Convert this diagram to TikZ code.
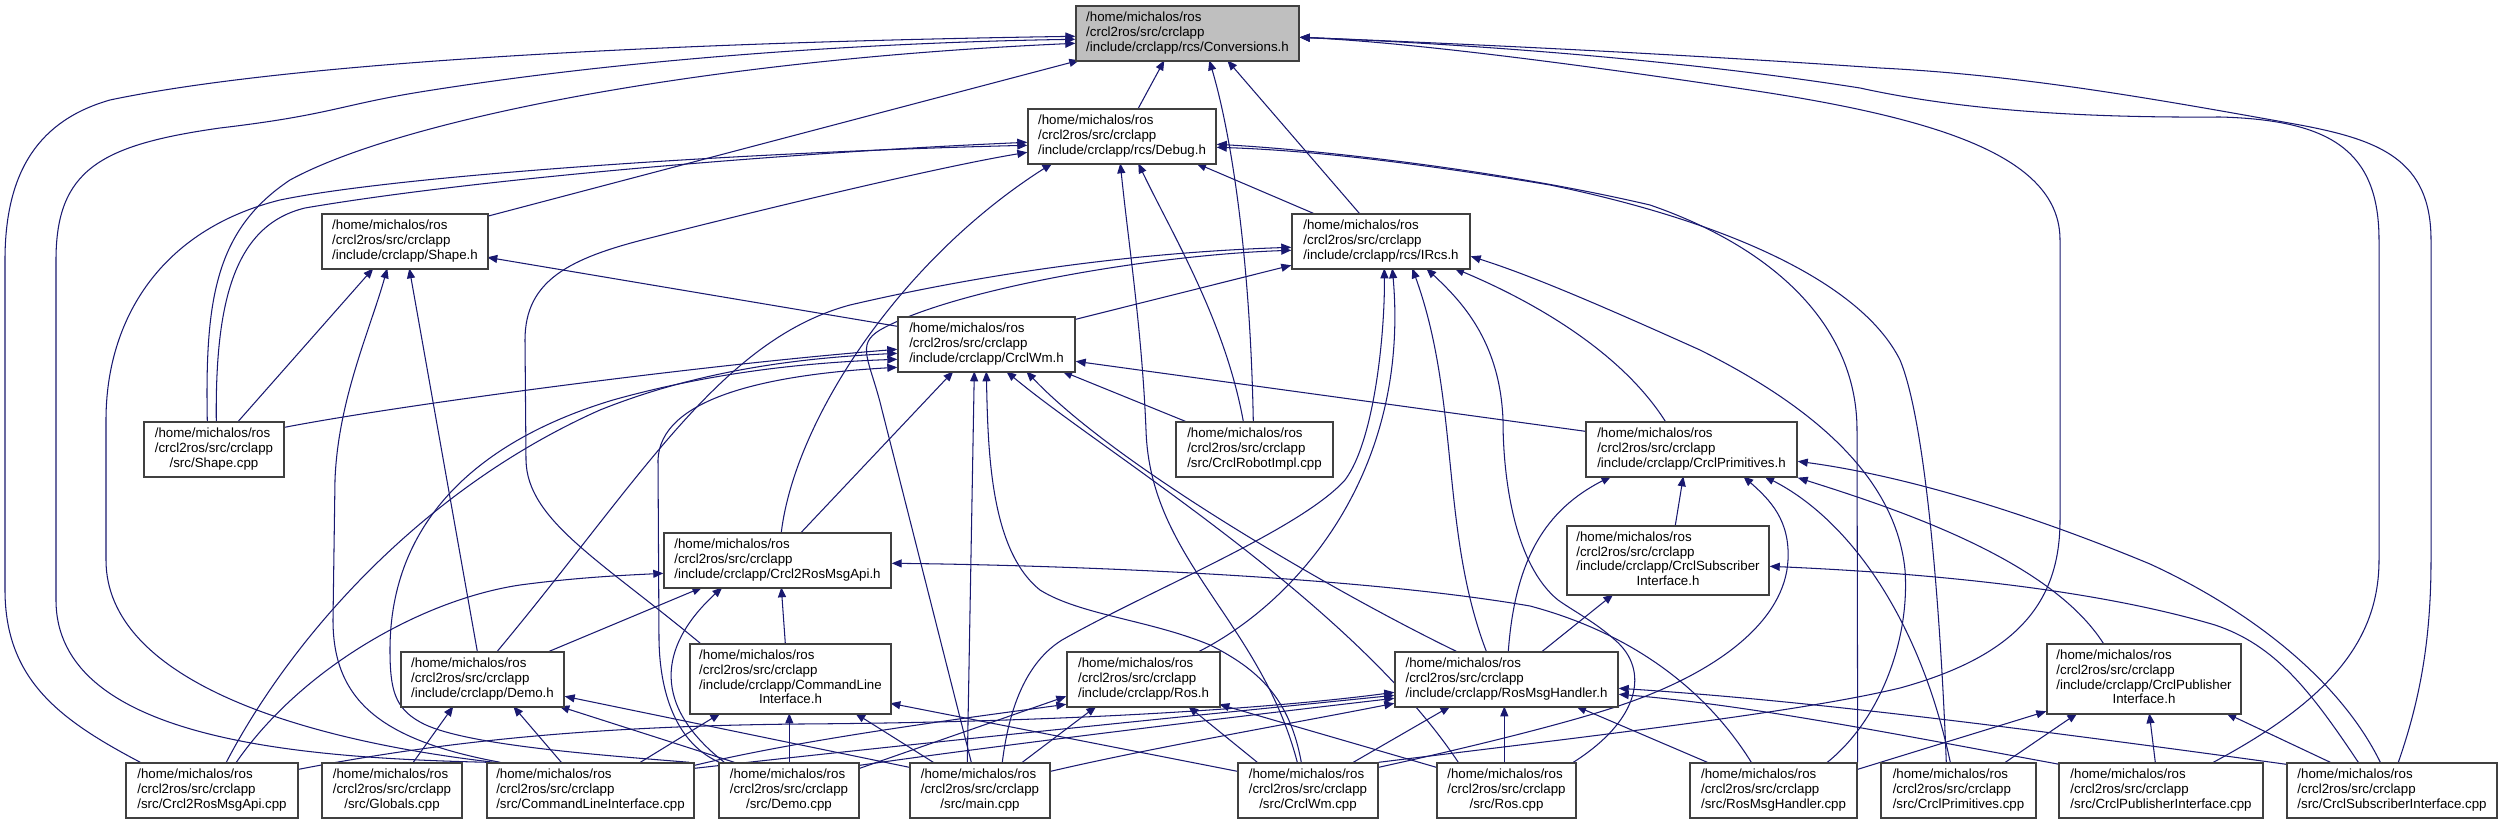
\documentclass[tikz,border=0pt]{standalone}
\usepackage{fontspec}
\setmainfont{Liberation Sans}
\usetikzlibrary{arrows.meta,backgrounds}
\definecolor{edgecol}{HTML}{191970}
\definecolor{boxcol}{HTML}{404040}
\definecolor{convfill}{HTML}{BFBFBF}
\newcommand\lblc[3]{\begin{tabular}{@{}l@{}}#1\\#2\\\multicolumn{1}{@{}c@{}}{#3}\end{tabular}}
\newcommand\lbld[4]{\begin{tabular}{@{}l@{}}#1\\#2\\#3\\\multicolumn{1}{@{}c@{}}{#4}\end{tabular}}
\newcommand\HMline{/home/michalos/ros}
\newcommand\CSline{/crcl2ros/src/crclapp}
\begin{document}
\begin{tikzpicture}[x=1pt,y=-1pt,
  box/.style={draw=boxcol,line width=1.4pt,fill=white,inner sep=0pt,font=\fontsize{13.3pt}{14.7pt}\selectfont},
  e/.style={draw=edgecol,line width=1.05pt,-{Triangle[length=10pt,width=8pt]}}]
\useasboundingbox (0,0) rectangle (2503,824);
% nodes
\node[box,fill=convfill,minimum width=223pt,minimum height=55pt] (C) at (1187.5,33.5) {\lblc{\HMline}{\CSline}{/include/crclapp/rcs/Conversions.h}};
\node[box,minimum width=188pt,minimum height=55pt] (D) at (1122,136.5) {\lblc{\HMline}{\CSline}{/include/crclapp/rcs/Debug.h}};
\node[box,minimum width=166pt,minimum height=55pt] (S) at (405,241.5) {\lblc{\HMline}{\CSline}{/include/crclapp/Shape.h}};
\node[box,minimum width=178pt,minimum height=55pt] (I) at (1381,241.5) {\lblc{\HMline}{\CSline}{/include/crclapp/rcs/IRcs.h}};
\node[box,minimum width=177pt,minimum height=55pt] (W) at (986.5,344.5) {\lblc{\HMline}{\CSline}{/include/crclapp/CrclWm.h}};
\node[box,minimum width=140pt,minimum height=55pt] (SC) at (214,449.5) {\lblc{\HMline}{\CSline}{/src/Shape.cpp}};
\node[box,minimum width=157pt,minimum height=55pt] (RI) at (1254.5,449.5) {\lblc{\HMline}{\CSline}{/src/CrclRobotImpl.cpp}};
\node[box,minimum width=211pt,minimum height=55pt] (P) at (1691.5,449.5) {\lblc{\HMline}{\CSline}{/include/crclapp/CrclPrimitives.h}};
\node[box,minimum width=227pt,minimum height=55pt] (A) at (777.5,560.5) {\lblc{\HMline}{\CSline}{/include/crclapp/Crcl2RosMsgApi.h}};
\node[box,minimum width=202pt,minimum height=69pt] (SI) at (1668,560.5) {\lbld{\HMline}{\CSline}{/include/crclapp/CrclSubscriber}{Interface.h}};
\node[box,minimum width=163pt,minimum height=55pt] (DH) at (482.5,679.5) {\lblc{\HMline}{\CSline}{/include/crclapp/Demo.h}};
\node[box,minimum width=201pt,minimum height=70pt] (CL) at (790.5,679) {\lbld{\HMline}{\CSline}{/include/crclapp/CommandLine}{Interface.h}};
\node[box,minimum width=153pt,minimum height=55pt] (RH) at (1143.5,679.5) {\lblc{\HMline}{\CSline}{/include/crclapp/Ros.h}};
\node[box,minimum width=223pt,minimum height=55pt] (MH) at (1506.5,679.5) {\lblc{\HMline}{\CSline}{/include/crclapp/RosMsgHandler.h}};
\node[box,minimum width=194pt,minimum height=70pt] (PI) at (2144,679) {\lbld{\HMline}{\CSline}{/include/crclapp/CrclPublisher}{Interface.h}};
\node[box,minimum width=172pt,minimum height=55pt] (b1) at (212,790.5) {\lblc{\HMline}{\CSline}{/src/Crcl2RosMsgApi.cpp}};
\node[box,minimum width=140pt,minimum height=55pt] (b2) at (392,790.5) {\lblc{\HMline}{\CSline}{/src/Globals.cpp}};
\node[box,minimum width=207pt,minimum height=55pt] (b3) at (590.5,790.5) {\lblc{\HMline}{\CSline}{/src/CommandLineInterface.cpp}};
\node[box,minimum width=140pt,minimum height=55pt] (b4) at (789,790.5) {\lblc{\HMline}{\CSline}{/src/Demo.cpp}};
\node[box,minimum width=140pt,minimum height=55pt] (b5) at (980,790.5) {\lblc{\HMline}{\CSline}{/src/main.cpp}};
\node[box,minimum width=140pt,minimum height=55pt] (b6) at (1308,790.5) {\lblc{\HMline}{\CSline}{/src/CrclWm.cpp}};
\node[box,minimum width=139pt,minimum height=55pt] (b7) at (1506.5,790.5) {\lblc{\HMline}{\CSline}{/src/Ros.cpp}};
\node[box,minimum width=167pt,minimum height=55pt] (b8) at (1773.5,790.5) {\lblc{\HMline}{\CSline}{/src/RosMsgHandler.cpp}};
\node[box,minimum width=155pt,minimum height=55pt] (b9) at (1958.5,790.5) {\lblc{\HMline}{\CSline}{/src/CrclPrimitives.cpp}};
\node[box,minimum width=204pt,minimum height=55pt] (b10) at (2161,790.5) {\lblc{\HMline}{\CSline}{/src/CrclPublisherInterface.cpp}};
\node[box,minimum width=210pt,minimum height=55pt] (b11) at (2392,790.5) {\lblc{\HMline}{\CSline}{/src/CrclSubscriberInterface.cpp}};
\begin{scope}[on background layer]
\fill[white] (0,0) rectangle (2503,824);
% into Conversions.h
\draw[e] ([xshift=166pt,yshift=-3pt]S.north west) -- ([xshift=4pt,yshift=-55pt]C.north west);
\draw[e] ([xshift=64pt]SC.north west) .. controls (205,300) and (215,230) .. (290,180) .. controls (400,120) and (700,60) .. ([yshift=-38pt]C.north west);
\draw[e] ([xshift=15pt]b1.north west) .. controls (60,720) and (5,680) .. (5,590) -- (5,260) .. controls (5,170) and (40,120) .. (110,100) .. controls (300,60) and (700,42) .. ([yshift=-31pt]C.north west);
\draw[e] ([xshift=2pt]b3.north west) .. controls (300,758) and (56,740) .. (56,600) -- (56,260) .. controls (56,170) and (100,145) .. (220,128) .. controls (330,115) and (340,105) .. (420,92) .. controls (650,55) and (900,42) .. ([yshift=-34pt]C.north west);
\draw[e] ([xshift=111pt]D.north west) -- ([xshift=89pt,yshift=-55pt]C.north west);
\draw[e] ([xshift=78pt]RI.north west) .. controls (1250,250) and (1230,130) .. ([xshift=134pt,yshift=-55pt]C.north west);
\draw[e] ([xshift=68pt]I.north west) -- ([xshift=152pt,yshift=-55pt]C.north west);
\draw[e] (b6.north east) .. controls (1600,735) and (1800,712) .. (1900,688) .. controls (2020,655) and (2060,600) .. (2060,520) -- (2060,240) .. controls (2060,160) and (1950,120) .. (1750,90) .. controls (1550,60) and (1400,42) .. ([yshift=-32pt]C.north east);
\draw[e] ([xshift=155pt]b10.north west) .. controls (2330,700) and (2379,640) .. (2379,560) -- (2379,240) .. controls (2379,150) and (2330,120) .. (2220,117) .. controls (2080,118) and (1960,110) .. (1860,88) .. controls (1650,55) and (1420,42) .. ([yshift=-32pt]C.north east);
\draw[e] ([xshift=112pt]b11.north west) .. controls (2420,700) and (2431,640) .. (2431,560) -- (2431,240) .. controls (2431,160) and (2380,140) .. (2300,125) .. controls (2150,98) and (2020,75) .. (1880,68) .. controls (1650,52) and (1420,42) .. ([yshift=-32pt]C.north east);
% into Debug.h
\draw[e] ([xshift=118pt]A.north west) .. controls (795,420) and (900,260) .. ([xshift=25pt,yshift=-55pt]D.north west);
\draw[e] ([xshift=11pt]CL.north west) .. controls (600,560) and (527,520) .. (526,460) -- (525,340) .. controls (525,280) and (570,258) .. (650,238) .. controls (800,200) and (950,165) .. ([yshift=-44pt]D.north west);
\draw[e] ([xshift=73pt]SC.north west) .. controls (215,300) and (235,225) .. (305,208) .. controls (480,178) and (800,152) .. ([yshift=-34pt]D.north west);
\draw[e] ([xshift=8pt]b3.north west) .. controls (300,740) and (106,680) .. (106,560) -- (106,420) .. controls (106,320) and (160,230) .. (280,200) .. controls (400,175) and (750,152) .. ([yshift=-37pt]D.north west);
\draw[e] ([xshift=68pt]RI.north west) .. controls (1225,320) and (1170,230) .. ([xshift=111pt,yshift=-55pt]D.north west);
\draw[e] ([xshift=60pt]b6.north west) .. controls (1260,620) and (1150,560) .. (1146,430) .. controls (1142,330) and (1128,240) .. ([xshift=93pt,yshift=-55pt]D.north west);
\draw[e] ([xshift=22pt]I.north west) -- ([xshift=169pt,yshift=-55pt]D.north west);
\draw[e] (b8.north east) -- (1857,430) .. controls (1857,330) and (1780,250) .. (1650,205) .. controls (1500,170) and (1320,150) .. ([yshift=-36pt]D.north east);
\draw[e] ([xshift=66pt]b9.north west) .. controls (1940,600) and (1925,420) .. (1900,360) .. controls (1860,280) and (1720,220) .. (1550,185) .. controls (1400,160) and (1300,150) .. ([yshift=-39pt]D.north east);
% into Shape.h
\draw[e] ([yshift=-10pt]W.north west) -- ([xshift=166pt,yshift=-44pt]S.north west);
\draw[e] ([xshift=95pt]SC.north west) -- ([xshift=52pt,yshift=-55pt]S.north west);
\draw[e] ([xshift=14pt]b3.north west) .. controls (380,740) and (333,700) .. (333,620) -- (335,480) .. controls (338,400) and (370,330) .. ([xshift=66pt,yshift=-55pt]S.north west);
\draw[e] ([xshift=77pt]DH.north west) -- ([xshift=88pt,yshift=-55pt]S.north west);
% into IRcs.h
\draw[e] ([yshift=-3pt]W.north east) -- ([yshift=-52pt]I.north west);
\draw[e] ([xshift=97pt]DH.north west) .. controls (640,480) and (720,340) .. (850,305) .. controls (1000,270) and (1150,252) .. ([yshift=-34pt]I.north west);
\draw[e] ([xshift=62pt]b5.north west) -- (882,410) .. controls (870,360) and (855,345) .. (880,330) .. controls (950,290) and (1150,255) .. ([yshift=-37pt]I.north west);
\draw[e] ([xshift=93pt]b5.north west) .. controls (1010,700) and (1030,660) .. (1062,640) .. controls (1150,590) and (1300,530) .. (1345,480) .. controls (1375,440) and (1385,330) .. ([xshift=93pt,yshift=-55pt]I.north west);
\draw[e] ([xshift=133pt]RH.north west) .. controls (1300,600) and (1410,470) .. ([xshift=101pt,yshift=-55pt]I.north west);
\draw[e] ([xshift=92pt]MH.north west) .. controls (1440,530) and (1460,400) .. ([xshift=121pt,yshift=-55pt]I.north west);
\draw[e] ([xshift=137pt]b7.north west) .. controls (1640,720) and (1650,670) .. (1615,640) .. controls (1595,622) and (1575,612) .. (1558,600) .. controls (1515,565) and (1503,480) .. (1503,420) .. controls (1500,340) and (1460,300) .. ([xshift=135pt,yshift=-55pt]I.north west);
\draw[e] ([xshift=80pt]P.north west) .. controls (1620,350) and (1530,300) .. ([xshift=163pt,yshift=-55pt]I.north west);
\draw[e] ([xshift=138pt]b8.north west) .. controls (1880,720) and (1910,640) .. (1905,570) .. controls (1895,470) and (1800,400) .. (1700,350) .. controls (1600,305) and (1530,275) .. ([yshift=-43pt]I.north east);
% into CrclWm.h
\draw[e] ([xshift=138pt]A.north west) -- ([xshift=56pt,yshift=-55pt]W.north west);
\draw[e] ([xshift=58pt]b5.north west) -- ([xshift=77pt,yshift=-55pt]W.north west);
\draw[e] ([xshift=64pt]b6.north west) .. controls (1290,700) and (1260,670) .. (1210,645) .. controls (1150,620) and (1080,615) .. (1040,590) .. controls (990,550) and (988,450) .. ([xshift=89pt,yshift=-55pt]W.north west);
\draw[e] ([xshift=22pt]b7.north west) .. controls (1350,600) and (1100,450) .. ([xshift=109pt,yshift=-55pt]W.north west);
\draw[e] ([xshift=62pt]MH.north west) .. controls (1350,600) and (1120,470) .. ([xshift=129pt,yshift=-55pt]W.north west);
\draw[e] ([xshift=10pt]RI.north west) -- ([xshift=165pt,yshift=-55pt]W.north west);
\draw[e] ([yshift=-10pt]P.north west) -- ([yshift=-45pt]W.north east);
\draw[e] ([yshift=-6pt]SC.north east) .. controls (400,405) and (700,365) .. ([yshift=-33pt]W.north west);
\draw[e] ([xshift=101pt]b1.north west) .. controls (290,640) and (420,490) .. (600,410) .. controls (700,370) and (800,358) .. ([yshift=-37pt]W.north west);
\draw[e] ([xshift=203pt]b3.north west) .. controls (600,755) and (460,745) .. (420,722) .. controls (395,708) and (390,690) .. (390,650) .. controls (390,520) and (480,440) .. (613,400) .. controls (720,370) and (820,362) .. ([yshift=-43pt]W.north west);
\draw[e] ([xshift=1pt]b4.north west) .. controls (680,745) and (660,700) .. (659,640) -- (658,460) .. controls (660,400) and (760,375) .. ([yshift=-51pt]W.north west);
% into Crcl2RosMsgApi.h
\draw[e] ([xshift=111pt]b1.north west) .. controls (300,670) and (420,600) .. (520,585) .. controls (580,577) and (630,575) .. ([yshift=-41pt]A.north west);
\draw[e] ([xshift=62pt]b8.north west) .. controls (1700,680) and (1620,630) .. (1530,606) .. controls (1350,575) and (1050,565) .. ([yshift=-31pt]A.north east);
\draw[e] ([xshift=149pt]DH.north west) -- ([xshift=39pt,yshift=-55pt]A.north west);
\draw[e] ([xshift=6pt]b4.north west) .. controls (645,700) and (665,640) .. ([xshift=59pt,yshift=-55pt]A.north west);
\draw[e] ([xshift=96pt]CL.north west) -- ([xshift=118pt,yshift=-55pt]A.north west);
% into Demo.h
\draw[e] ([xshift=92pt]b2.north west) -- ([xshift=53pt,yshift=-55pt]DH.north west);
\draw[e] ([xshift=75pt]b3.north west) -- ([xshift=113pt,yshift=-55pt]DH.north west);
\draw[e] ([xshift=16pt]b4.north west) -- ([xshift=159pt,yshift=-55pt]DH.north west);
\draw[e] ([yshift=-5pt]b5.north west) -- ([yshift=-45pt]DH.north east);
% into CommandLineInterface.h
\draw[e] ([xshift=154pt]b3.north west) -- ([xshift=31pt,yshift=-70pt]CL.north west);
\draw[e] ([xshift=71pt]b4.north west) -- ([xshift=100pt,yshift=-70pt]CL.north west);
\draw[e] ([xshift=24pt]b5.north west) -- ([xshift=166pt,yshift=-70pt]CL.north west);
\draw[e] ([yshift=-9pt]b6.north west) -- ([xshift=201pt,yshift=-60pt]CL.north west);
% into Ros.h
\draw[e] ([yshift=-6pt]b4.north east) -- ([yshift=-45pt]RH.north west);
\draw[e] ([yshift=-3pt]b3.north east) .. controls (800,740) and (950,720) .. ([yshift=-53pt]RH.north west);
\draw[e] ([xshift=113pt]b5.north west) -- ([xshift=30pt,yshift=-55pt]RH.north west);
\draw[e] ([xshift=20pt]b6.north west) -- ([xshift=122pt,yshift=-55pt]RH.north west);
\draw[e] ([yshift=-5pt]b7.north west) -- ([xshift=153pt,yshift=-53pt]RH.north west);
% into RosMsgHandler.h
\draw[e] ([yshift=-7pt]b1.north east) .. controls (450,740) and (600,726) .. (800,724) .. controls (1100,722) and (1300,705) .. ([yshift=-41pt]MH.north west);
\draw[e] ([yshift=-6pt]b3.north east) .. controls (900,745) and (1200,715) .. ([yshift=-44pt]MH.north west);
\draw[e] ([yshift=-3pt]b4.north east) .. controls (1000,745) and (1250,715) .. ([yshift=-47pt]MH.north west);
\draw[e] ([yshift=-9pt]b5.north east) .. controls (1150,748) and (1300,722) .. ([yshift=-52pt]MH.north west);
\draw[e] ([xshift=116pt]b6.north west) -- ([xshift=56pt,yshift=-55pt]MH.north west);
\draw[e] ([xshift=68pt]b7.north west) -- ([xshift=110pt,yshift=-55pt]MH.north west);
\draw[e] ([xshift=18pt]b8.north west) -- ([xshift=182pt,yshift=-55pt]MH.north west);
\draw[e] ([yshift=-2pt]b11.north west) .. controls (2000,725) and (1800,700) .. ([yshift=-37pt]MH.north east);
\draw[e] ([xshift=1pt,yshift=-2pt]b10.north west) .. controls (1900,735) and (1750,705) .. ([yshift=-43pt]MH.north east);
% into CrclPrimitives.h
\draw[e] ([xshift=114pt]MH.north west) .. controls (1515,560) and (1545,510) .. ([xshift=26pt,yshift=-55pt]P.north west);
\draw[e] ([xshift=109pt]SI.north west) -- ([xshift=98pt,yshift=-55pt]P.north west);
\draw[e] ([yshift=-5pt]b6.north east) .. controls (1480,745) and (1580,720) .. (1630,702) .. controls (1720,670) and (1785,620) .. (1788,560) .. controls (1790,520) and (1770,500) .. ([xshift=158pt,yshift=-55pt]P.north west);
\draw[e] ([xshift=70pt]b9.north west) .. controls (1920,620) and (1850,520) .. ([xshift=179pt,yshift=-55pt]P.north west);
\draw[e] ([xshift=57pt]PI.north west) .. controls (2050,560) and (1900,510) .. (P.south east);
\draw[e] ([xshift=94pt]b11.north west) .. controls (2340,680) and (2250,610) .. (2150,564) .. controls (2020,510) and (1900,475) .. ([yshift=-40pt]P.north east);
% into CrclSubscriberInterface.h
\draw[e] ([xshift=148pt]MH.north west) -- ([xshift=47pt,yshift=-69pt]SI.north west);
\draw[e] ([xshift=72pt]b11.north west) .. controls (2310,690) and (2275,645) .. (2215,625) .. controls (2080,585) and (1900,572) .. ([yshift=-41pt]SI.north east);
% into CrclPublisherInterface.h
\draw[e] ([yshift=-7pt]b8.north east) -- ([yshift=-68pt]PI.north west);
\draw[e] ([xshift=125pt]b9.north west) -- ([xshift=31pt,yshift=-70pt]PI.north west);
\draw[e] ([xshift=97pt]b10.north west) -- ([xshift=103pt,yshift=-70pt]PI.north west);
\draw[e] ([xshift=44pt]b11.north west) -- ([xshift=180pt,yshift=-70pt]PI.north west);
\end{scope}
\end{tikzpicture}
\end{document}
